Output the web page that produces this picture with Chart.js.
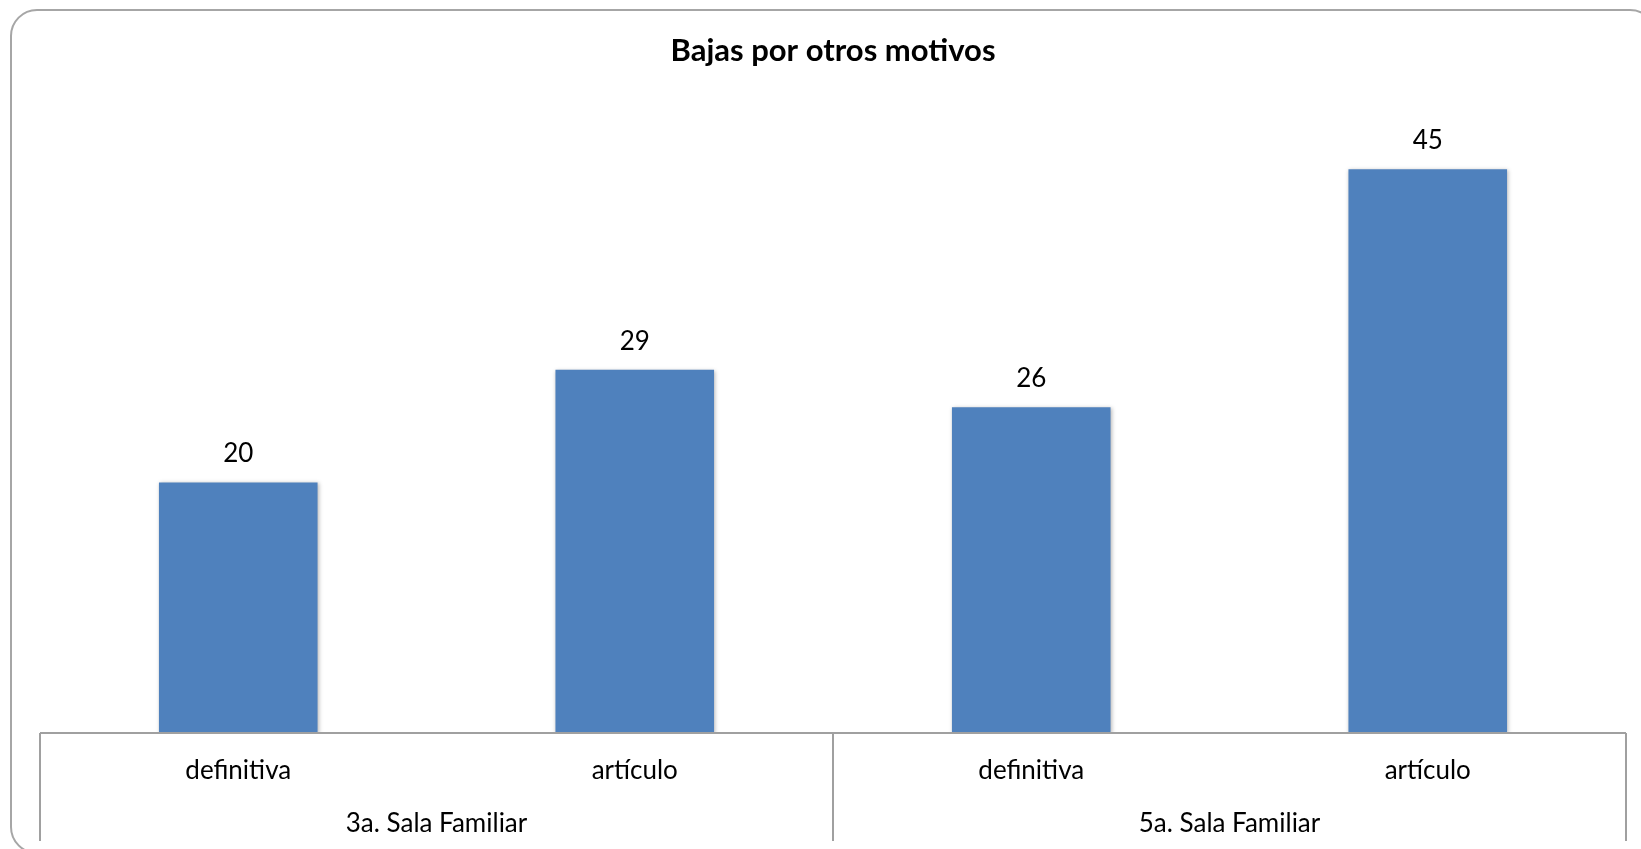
<!DOCTYPE html>
<html>
<head>
<meta charset="utf-8">
<script src="https://cdn.jsdelivr.net/npm/chart.js@4"></script>
<style>
  html, body { margin: 0; padding: 0; background: #ffffff; }
  #wrap { width: 1641px; height: 849px; position: relative; }
</style>
</head>
<body>
<div id="wrap"><canvas id="c" width="1641" height="849"></canvas></div>
<script>
const chartTitle = 'Bajas por otros motivos';
const categories = ['definitiva', 'artículo', 'definitiva', 'artículo'];
const groups = ['3a. Sala Familiar', '5a. Sala Familiar'];
const groupSizes = [2, 2];
const values = [20, 29, 26, 45];
const yMin = 0;
const yMax = 50;

const FONT = 'Lato, "Open Sans", sans-serif';
const AXIS_COLOR = '#A0A0A0';

const decorPlugin = {
  id: 'decor',
  beforeDraw(chart) {
    const ctx = chart.ctx;
    ctx.save();
    ctx.fillStyle = '#ffffff';
    ctx.fillRect(0, 0, chart.width, chart.height);
    // outer rounded border
    const x0 = 11, y0 = 10, x1 = 1656, y1 = 853, r = 26;
    ctx.beginPath();
    ctx.moveTo(x0 + r, y0);
    ctx.lineTo(x1 - r, y0);
    ctx.arcTo(x1, y0, x1, y0 + r, r);
    ctx.lineTo(x1, y1 - r);
    ctx.arcTo(x1, y1, x1 - r, y1, r);
    ctx.lineTo(x0 + r, y1);
    ctx.arcTo(x0, y1, x0, y1 - r, r);
    ctx.lineTo(x0, y0 + r);
    ctx.arcTo(x0, y0, x0 + r, y0, r);
    ctx.closePath();
    ctx.lineWidth = 2;
    ctx.strokeStyle = '#A6A6A6';
    ctx.stroke();
    ctx.restore();
  },
  beforeDatasetsDraw(chart) {
    const ctx = chart.ctx;
    ctx.save();
    ctx.shadowColor = 'rgba(0,0,0,0.28)';
    ctx.shadowBlur = 4;
    ctx.shadowOffsetX = 1;
    ctx.shadowOffsetY = 1;
  },
  afterDatasetsDraw(chart) {
    const ctx = chart.ctx;
    ctx.restore();
    // data labels
    ctx.save();
    ctx.font = '26px ' + FONT;
    ctx.fillStyle = '#000000';
    ctx.textAlign = 'center';
    ctx.textBaseline = 'alphabetic';
    const meta = chart.getDatasetMeta(0);
    meta.data.forEach((bar, i) => {
      ctx.fillText(String(values[i]), bar.x, bar.y - 20);
    });
    ctx.restore();
  },
  afterDraw(chart) {
    const ctx = chart.ctx;
    const area = chart.chartArea;
    const xs = chart.scales.x;
    ctx.save();
    // title
    ctx.font = 'bold 31px ' + FONT;
    ctx.fillStyle = '#000000';
    ctx.textAlign = 'center';
    ctx.textBaseline = 'alphabetic';
    ctx.fillText(chartTitle, (area.left + area.right) / 2, 61);

    // axis lines
    ctx.strokeStyle = AXIS_COLOR;
    ctx.lineWidth = 2;
    ctx.beginPath();
    ctx.moveTo(area.left, area.bottom);
    ctx.lineTo(area.right, area.bottom);
    ctx.stroke();

    // group boundaries
    const bounds = [area.left];
    let idx = 0;
    groupSizes.forEach((n) => {
      idx += n;
      if (idx < categories.length) {
        bounds.push((xs.getPixelForValue(idx - 1) + xs.getPixelForValue(idx)) / 2);
      } else {
        bounds.push(area.right);
      }
    });
    ctx.beginPath();
    bounds.forEach((bx) => {
      ctx.moveTo(bx, area.bottom);
      ctx.lineTo(bx, area.bottom + 108);
    });
    ctx.stroke();

    // category labels
    ctx.font = '26px ' + FONT;
    ctx.fillStyle = '#000000';
    categories.forEach((c, i) => {
      ctx.fillText(c, xs.getPixelForValue(i), area.bottom + 46);
    });
    // group labels
    groups.forEach((g, gi) => {
      ctx.fillText(g, (bounds[gi] + bounds[gi + 1]) / 2, area.bottom + 99);
    });
    ctx.restore();
  }
};

new Chart(document.getElementById('c'), {
  type: 'bar',
  data: {
    labels: categories,
    datasets: [{
      data: values,
      backgroundColor: '#4F81BD',
      borderWidth: 0,
      barPercentage: 0.4,
      categoryPercentage: 1.0
    }]
  },
  options: {
    responsive: false,
    animation: false,
    layout: { padding: { left: 40, right: 15, top: 106.5, bottom: 116 } },
    plugins: {
      legend: { display: false },
      title: { display: false },
      tooltip: { enabled: false }
    },
    scales: {
      x: { display: false },
      y: { display: false, min: yMin, max: yMax }
    }
  },
  plugins: [decorPlugin]
});
</script>
</body>
</html>
